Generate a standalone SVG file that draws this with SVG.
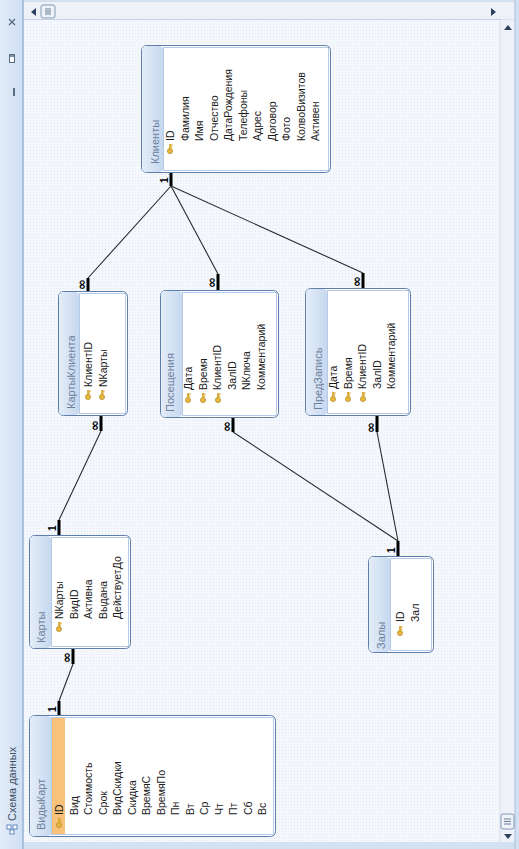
<svg xmlns="http://www.w3.org/2000/svg" width="519" height="849" viewBox="0 0 519 849">
<defs>
<linearGradient id="tg" x1="0" y1="0" x2="1" y2="0">
<stop offset="0" stop-color="#e4edf9"/><stop offset="1" stop-color="#c6d8ef"/>
</linearGradient>
<linearGradient id="sg" x1="0" y1="0" x2="1" y2="0">
<stop offset="0" stop-color="#e3ecf8"/><stop offset="1" stop-color="#cfdff2"/>
</linearGradient>
<pattern id="dots" width="3" height="3" patternUnits="userSpaceOnUse">
<rect width="3" height="3" fill="#f4f7fc"/><rect width="1" height="1" fill="#e2e9f4"/>
</pattern>
<g id="key">
<circle cx="0" cy="3" r="2.6" fill="#e6b83e" stroke="#a57c1c" stroke-width="0.6"/>
<rect x="-0.9" y="-4" width="1.8" height="5.5" fill="#d9a52c"/>
<rect x="0.8" y="-3.5" width="1.8" height="1.3" fill="#d9a52c"/>
<rect x="0.8" y="-1.3" width="1.4" height="1.2" fill="#d9a52c"/>
</g>
</defs>
<style>
.box{fill:#ffffff;stroke:#5f7ea9;stroke-width:1}
.strip{fill:url(#tg)}
.inner{fill:#ffffff;stroke:#b5cae6;stroke-width:1}
.ttl{font-family:"Liberation Sans",Arial,sans-serif;font-size:11px;fill:#6d819b}
.fld{font-family:"Liberation Sans",Arial,sans-serif;font-size:10.5px;fill:#1c1c1c}
.lnk{stroke:#2a2a2a;stroke-width:1.1;fill:none}
.end{stroke:#000;stroke-width:3;fill:none}
.mk{font-family:"Liberation Sans",Arial,sans-serif;font-size:10px;font-weight:bold;fill:#000}
.inf{font-family:"DejaVu Sans",sans-serif;font-size:13px;font-weight:bold;fill:#000}
.side{font-family:"Liberation Sans",Arial,sans-serif;font-size:11px;fill:#3e4e63}
</style>

<!-- window chrome -->
<rect x="0" y="0" width="519" height="849" fill="#d3e1f2"/>
<rect x="24" y="20" width="476" height="822" fill="url(#dots)"/>
<rect x="0" y="0" width="22" height="849" fill="url(#sg)"/>
<line x1="23" y1="0" x2="23" y2="849" stroke="#9db5d6" stroke-width="1.5"/>
<rect x="24" y="2" width="491" height="17" fill="#eef2f8"/>
<line x1="24" y1="19.5" x2="500" y2="19.5" stroke="#c3d1e4"/>
<polygon points="36,8 36,16 31,12" fill="#2d3f5c"/>
<rect x="41" y="5" width="14" height="13" rx="2" fill="#eef3fa" stroke="#8599b6"/>
<line x1="46" y1="8" x2="46" y2="15" stroke="#6f7f96"/><line x1="48" y1="8" x2="48" y2="15" stroke="#6f7f96"/><line x1="50" y1="8" x2="50" y2="15" stroke="#6f7f96"/>
<polygon points="491,8 491,16 496,12" fill="#2d3f5c"/>
<rect x="500" y="20" width="15" height="822" fill="#eef2f8"/>
<line x1="500" y1="20" x2="500" y2="842" stroke="#d2dcea"/>
<line x1="515" y1="0" x2="515" y2="849" stroke="#a7bcd9"/>
<polygon points="504,30 512,30 508,25" fill="#2d3f5c"/>
<rect x="501" y="814" width="13" height="15" rx="2" fill="#eef3fa" stroke="#8599b6"/>
<line x1="504" y1="819" x2="511" y2="819" stroke="#6f7f96"/><line x1="504" y1="821.5" x2="511" y2="821.5" stroke="#6f7f96"/><line x1="504" y1="824" x2="511" y2="824" stroke="#6f7f96"/>
<polygon points="504,834 512,834 508,839" fill="#2d3f5c"/>
<g stroke="#5a6b84" stroke-width="1.3">
<line x1="9" y1="19" x2="15" y2="25"/><line x1="15" y1="19" x2="9" y2="25"/>
</g>
<rect x="9.5" y="54.5" width="5" height="8" fill="#fff" stroke="#5a6b84"/>
<line x1="10" y1="56" x2="14" y2="56" stroke="#5a6b84" stroke-width="1.5"/>
<rect x="13" y="88" width="2" height="8" fill="#5a6b84"/>
<text class="side" transform="translate(16,821) rotate(-90)">Схема данных</text>
<g transform="translate(7,825)">
<rect x="0" y="0" width="4" height="4" fill="#fff" stroke="#3d6fb0" stroke-width="0.8"/>
<rect x="6" y="0" width="4" height="4" fill="#fff" stroke="#3d6fb0" stroke-width="0.8"/>
<rect x="3" y="5" width="4" height="4" fill="#fff" stroke="#3d6fb0" stroke-width="0.8"/>
</g>

<!-- connectors -->
<g id="connectors">
<line class="end" x1="171" y1="172" x2="171" y2="186"/>
<text class="mk" transform="translate(168,183) rotate(-90)">1</text>
<line class="lnk" x1="171" y1="186" x2="88" y2="278"/>
<line class="lnk" x1="171" y1="186" x2="218" y2="274"/>
<line class="lnk" x1="171" y1="186" x2="363" y2="273"/>
<line class="end" x1="88" y1="278" x2="88" y2="291"/>
<text class="inf" transform="translate(86,290) rotate(-90)">∞</text>
<line class="end" x1="218" y1="274" x2="218" y2="290"/>
<text class="inf" transform="translate(216,288) rotate(-90)">∞</text>
<line class="end" x1="363" y1="273" x2="363" y2="289"/>
<text class="inf" transform="translate(361,287) rotate(-90)">∞</text>

<line class="end" x1="101" y1="416" x2="101" y2="431"/>
<text class="inf" transform="translate(99,431) rotate(-90)">∞</text>
<line class="lnk" x1="101" y1="431" x2="59" y2="520"/>
<line class="end" x1="59" y1="520" x2="59" y2="536"/>
<text class="mk" transform="translate(56,531) rotate(-90)">1</text>

<line class="end" x1="73" y1="649" x2="73" y2="664"/>
<text class="inf" transform="translate(71,663) rotate(-90)">∞</text>
<line class="lnk" x1="73" y1="664" x2="59" y2="701"/>
<line class="end" x1="59" y1="701" x2="59" y2="716"/>
<text class="mk" transform="translate(56,712) rotate(-90)">1</text>

<line class="end" x1="233" y1="418" x2="233" y2="432"/>
<text class="inf" transform="translate(231,432) rotate(-90)">∞</text>
<line class="lnk" x1="233" y1="432" x2="398" y2="541"/>
<line class="end" x1="377" y1="415" x2="377" y2="432"/>
<text class="inf" transform="translate(375,433) rotate(-90)">∞</text>
<line class="lnk" x1="377" y1="432" x2="398" y2="541"/>
<line class="end" x1="398" y1="541" x2="398" y2="557"/>
<text class="mk" transform="translate(395,553) rotate(-90)">1</text>
</g>

<!-- Клиенты -->
<g id="t-klienty">
<rect class="box" x="141.5" y="45.5" width="189" height="127" rx="5"/>
<rect class="strip" x="142" y="46" width="21" height="126" rx="4"/>
<rect class="inner" x="163.5" y="47.5" width="165" height="123"/>
<text class="ttl" transform="translate(159,164) rotate(-90)">Клиенты</text>
<use href="#key" x="170" y="148"/>
<g class="fld">
<text transform="translate(174,141) rotate(-90)">ID</text>
<text transform="translate(188.5,141) rotate(-90)">Фамилия</text>
<text transform="translate(203,141) rotate(-90)">Имя</text>
<text transform="translate(217.5,141) rotate(-90)">Отчество</text>
<text transform="translate(232,141) rotate(-90)">ДатаРождения</text>
<text transform="translate(246.5,141) rotate(-90)">Телефоны</text>
<text transform="translate(261,141) rotate(-90)">Адрес</text>
<text transform="translate(275.5,141) rotate(-90)">Договор</text>
<text transform="translate(290,141) rotate(-90)">Фото</text>
<text transform="translate(304.5,141) rotate(-90)">КолвоВизитов</text>
<text transform="translate(319,141) rotate(-90)">Активен</text>
</g>
</g>

<!-- КартыКлиента -->
<g id="t-kartyklienta">
<rect class="box" x="58.5" y="291.5" width="69" height="124" rx="5"/>
<rect class="strip" x="59" y="292" width="20" height="123" rx="4"/>
<rect class="inner" x="79.5" y="293.5" width="46" height="120"/>
<text class="ttl" transform="translate(75,409) rotate(-90)">КартыКлиента</text>
<use href="#key" x="88" y="394"/>
<use href="#key" x="102" y="394"/>
<g class="fld">
<text transform="translate(92,387) rotate(-90)">КлиентID</text>
<text transform="translate(106.5,387) rotate(-90)">NКарты</text>
</g>
</g>

<!-- Посещения -->
<g id="t-posescheniya">
<rect class="box" x="160.5" y="290.5" width="118" height="127" rx="5"/>
<rect class="strip" x="161" y="291" width="21" height="126" rx="4"/>
<rect class="inner" x="182.5" y="292.5" width="94" height="123"/>
<text class="ttl" transform="translate(174,412) rotate(-90)">Посещения</text>
<use href="#key" x="188" y="397"/>
<use href="#key" x="203" y="397"/>
<use href="#key" x="218" y="397"/>
<g class="fld">
<text transform="translate(192,390) rotate(-90)">Дата</text>
<text transform="translate(206.5,390) rotate(-90)">Время</text>
<text transform="translate(221,390) rotate(-90)">КлиентID</text>
<text transform="translate(235.5,390) rotate(-90)">ЗалID</text>
<text transform="translate(250,390) rotate(-90)">NКлюча</text>
<text transform="translate(264.5,390) rotate(-90)">Комментарий</text>
</g>
</g>

<!-- ПредЗапись -->
<g id="t-predzapis">
<rect class="box" x="305.5" y="288.5" width="105" height="127" rx="5"/>
<rect class="strip" x="306" y="289" width="21" height="126" rx="4"/>
<rect class="inner" x="327.5" y="290.5" width="81" height="123"/>
<text class="ttl" transform="translate(322,410) rotate(-90)">ПредЗапись</text>
<use href="#key" x="333" y="396"/>
<use href="#key" x="348" y="396"/>
<use href="#key" x="363" y="396"/>
<g class="fld">
<text transform="translate(337,389) rotate(-90)">Дата</text>
<text transform="translate(351.5,389) rotate(-90)">Время</text>
<text transform="translate(366,389) rotate(-90)">КлиентID</text>
<text transform="translate(380.5,389) rotate(-90)">ЗалID</text>
<text transform="translate(395,389) rotate(-90)">Комментарий</text>
</g>
</g>

<!-- Карты -->
<g id="t-karty">
<rect class="box" x="29.5" y="535.5" width="101" height="113" rx="5"/>
<rect class="strip" x="30" y="536" width="21" height="112" rx="4"/>
<rect class="inner" x="51.5" y="537.5" width="77" height="109"/>
<text class="ttl" transform="translate(45,643) rotate(-90)">Карты</text>
<use href="#key" x="59" y="626"/>
<g class="fld">
<text transform="translate(63,619) rotate(-90)">NКарты</text>
<text transform="translate(77.5,619) rotate(-90)">ВидID</text>
<text transform="translate(92,619) rotate(-90)">Активна</text>
<text transform="translate(106.5,619) rotate(-90)">Выдана</text>
<text transform="translate(121,619) rotate(-90)">ДействуетДо</text>
</g>
</g>

<!-- Залы -->
<g id="t-zaly">
<rect class="box" x="368.5" y="556.5" width="65" height="96" rx="5"/>
<rect class="strip" x="369" y="557" width="21" height="95" rx="4"/>
<rect class="inner" x="390.5" y="558.5" width="41" height="92"/>
<text class="ttl" transform="translate(385,649) rotate(-90)">Залы</text>
<use href="#key" x="400" y="630"/>
<g class="fld">
<text transform="translate(404,622) rotate(-90)">ID</text>
<text transform="translate(418.5,622) rotate(-90)">Зал</text>
</g>
</g>

<!-- ВидыКарт -->
<g id="t-vidykart">
<rect class="box" x="29.5" y="715.5" width="246" height="121" rx="5"/>
<rect class="strip" x="30" y="716" width="21" height="120" rx="4"/>
<rect class="inner" x="51.5" y="717.5" width="222" height="117"/>
<rect x="52" y="718" width="13" height="116" fill="#f8c27a"/>
<text class="ttl" transform="translate(45,830) rotate(-90)">ВидыКарт</text>
<use href="#key" x="59" y="822"/>
<g class="fld">
<text transform="translate(63,815) rotate(-90)">ID</text>
<text transform="translate(77.5,815) rotate(-90)">Вид</text>
<text transform="translate(92,815) rotate(-90)">Стоимость</text>
<text transform="translate(106.5,815) rotate(-90)">Срок</text>
<text transform="translate(121,815) rotate(-90)">ВидСкидки</text>
<text transform="translate(135.5,815) rotate(-90)">Скидка</text>
<text transform="translate(150,815) rotate(-90)">ВремяС</text>
<text transform="translate(164.5,815) rotate(-90)">ВремяПо</text>
<text transform="translate(179,815) rotate(-90)">Пн</text>
<text transform="translate(193.5,815) rotate(-90)">Вт</text>
<text transform="translate(208,815) rotate(-90)">Ср</text>
<text transform="translate(222.5,815) rotate(-90)">Чт</text>
<text transform="translate(237,815) rotate(-90)">Пт</text>
<text transform="translate(251.5,815) rotate(-90)">Сб</text>
<text transform="translate(266,815) rotate(-90)">Вс</text>
</g>
</g>
</svg>
